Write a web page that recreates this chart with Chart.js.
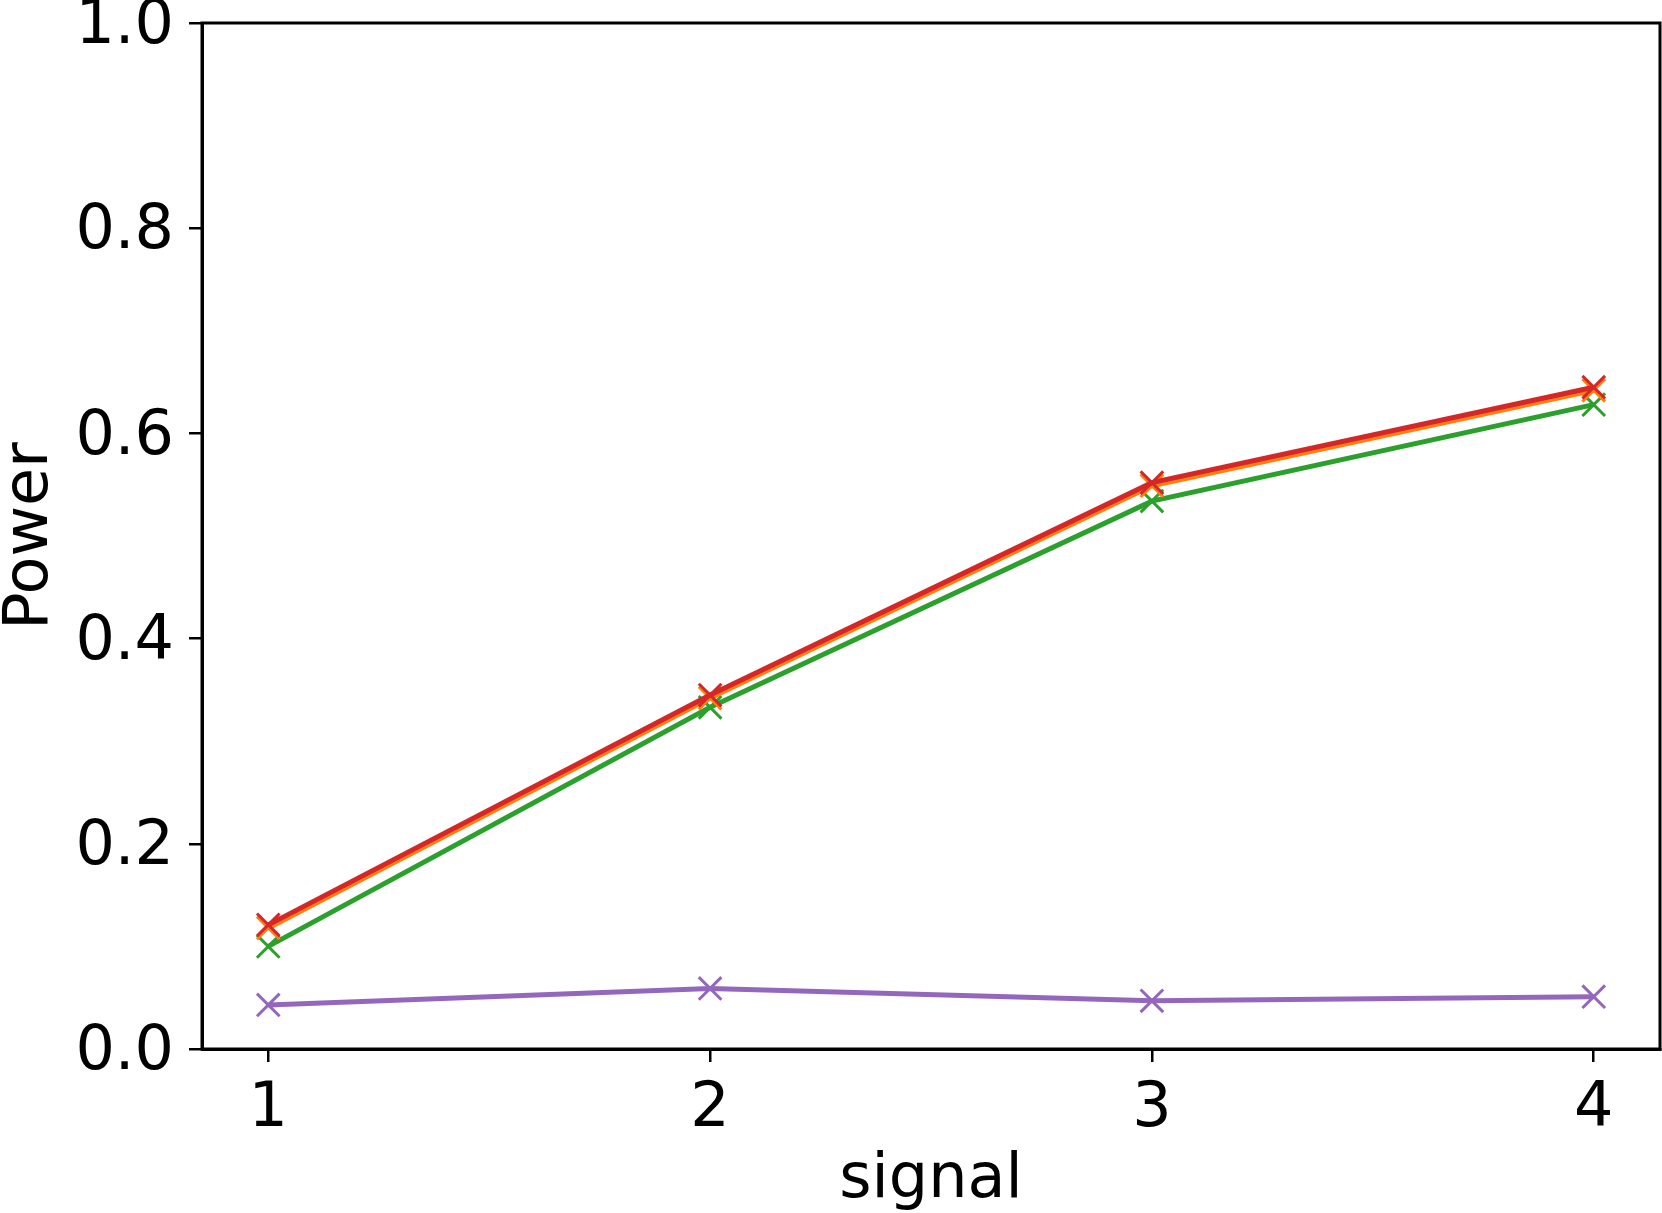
<!DOCTYPE html>
<html>
<head>
<meta charset="utf-8">
<script src="https://cdn.jsdelivr.net/npm/chart.js@4"></script>
<style>
  body { margin: 0; background: #fff; }
</style>
</head>
<body>
<canvas id="grafico" width="1662" height="1213"></canvas>
<script>
const signals = [1, 2, 3, 4];
const redPower = [0.121, 0.345, 0.552, 0.645];
const orangePower = [0.118, 0.342, 0.549, 0.642];
const greenPower = [0.100, 0.333, 0.534, 0.628];
const purplePower = [0.043, 0.059, 0.047, 0.051];
const xTicks = [1, 2, 3, 4];
const yTicks = [0, 0.2, 0.4, 0.6, 0.8, 1.0];

document.addEventListener('DOMContentLoaded', () => {
    const ctx = document.getElementById('grafico').getContext('2d');
    const fuente = 'DejaVu Sans';

    function puntos(valores) {
        return signals.map((s, i) => ({ x: s, y: valores[i] }));
    }

    function serie(valores, color) {
        return {
            data: puntos(valores),
            borderColor: color,
            backgroundColor: color,
            borderWidth: 5,
            pointStyle: 'crossRot',
            pointRadius: 16,
            pointBorderWidth: 3,
            pointHoverRadius: 16,
            tension: 0
        };
    }

    // marco negro alrededor del area del grafico
    const marco = {
        id: 'marco',
        afterDraw(chart) {
            const a = chart.chartArea;
            const c = chart.ctx;
            c.save();
            c.strokeStyle = '#000';
            c.lineWidth = 3;
            c.strokeRect(a.left, a.top, a.right - a.left, a.bottom - a.top);
            c.restore();
        }
    };

    new Chart(ctx, {
        type: 'line',
        data: {
            datasets: [
                serie(redPower, '#d62728'),
                serie(orangePower, '#ff7f0e'),
                serie(greenPower, '#2ca02c'),
                serie(purplePower, '#9467bd')
            ]
        },
        options: {
            responsive: false,
            animation: false,
            layout: { autoPadding: false, padding: { left: 0, right: 2, top: 23, bottom: 0 } },
            plugins: { legend: { display: false }, tooltip: { enabled: false } },
            scales: {
                x: {
                    type: 'linear',
                    min: 0.85,
                    max: 4.15,
                    afterBuildTicks: s => { s.ticks = xTicks.map(v => ({ value: v })); },
                    afterFit: s => { s.height = 164; s.paddingLeft = 0; s.paddingRight = 0; },
                    grid: { drawOnChartArea: false, drawTicks: true, tickLength: 13, color: '#000', lineWidth: 2.5 },
                    border: { display: true, color: '#000', width: 3 },
                    ticks: { color: '#000', font: { family: fuente, size: 62 }, padding: 11, maxRotation: 0 },
                    title: { display: true, text: 'signal', color: '#000', font: { family: fuente, size: 62, lineHeight: 1 }, padding: { top: 0, bottom: 1 } }
                },
                y: {
                    min: 0,
                    max: 1,
                    afterBuildTicks: s => { s.ticks = yTicks.map(v => ({ value: v })); },
                    afterFit: s => { s.width = 202; s.paddingTop = 0; s.paddingBottom = 0; },
                    grid: { drawOnChartArea: false, drawTicks: true, tickLength: 13, color: '#000', lineWidth: 2.5 },
                    border: { display: true, color: '#000', width: 3 },
                    ticks: { color: '#000', font: { family: fuente, size: 62 }, padding: 15, labelOffset: 4, callback: v => v.toFixed(1) },
                    title: { display: true, text: 'Power', color: '#000', font: { family: fuente, size: 62, lineHeight: 1 }, padding: { top: 0, bottom: 0 } }
                }
            }
        },
        plugins: [marco]
    });
});
</script>
</body>
</html>
